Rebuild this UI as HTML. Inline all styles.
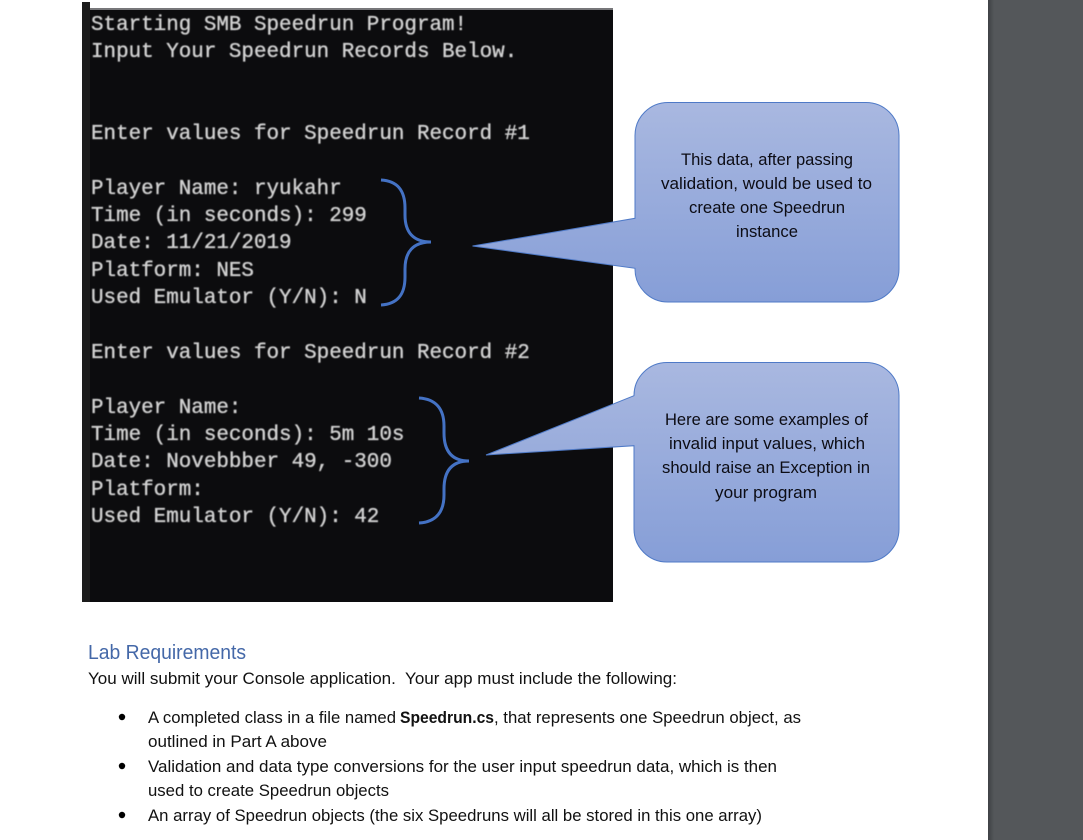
<!DOCTYPE html>
<html lang="en">
<head>
<meta charset="utf-8">
<title>Speedrun Lab</title>
<style>
html,body{margin:0;padding:0;width:1083px;height:840px;overflow:hidden;background:#fff}
svg{display:block}
.t{font-family:"Liberation Mono",monospace;font-size:20.9px;fill:#d2d2d2;stroke:#d2d2d2;stroke-width:.35px}
.s{font-family:"Liberation Sans",sans-serif;font-size:16.5px;fill:#111}
.c{font-family:"Liberation Sans",sans-serif;font-size:16.5px;fill:#0c0c14}
</style>
</head>
<body>
<svg width="1083" height="840" viewBox="0 0 1083 840" xmlns="http://www.w3.org/2000/svg">
<defs>
<linearGradient id="g" x1="0" y1="0" x2="0" y2="1">
<stop offset="0" stop-color="#a9b8e0"/>
<stop offset="1" stop-color="#869ed7"/>
</linearGradient>
<linearGradient id="sh" x1="0" y1="0" x2="1" y2="0">
<stop offset="0" stop-color="#3e4144"/>
<stop offset="1" stop-color="#54575a"/>
</linearGradient>
<filter id="b" x="-2%" y="-2%" width="104%" height="104%"><feGaussianBlur stdDeviation="0.5"/></filter>
</defs>

<rect width="1083" height="840" fill="#fff"/>

<!-- right panel -->
<rect x="988" y="0" width="95" height="840" fill="#54575a"/>
<rect x="988" y="0" width="6" height="840" fill="url(#sh)"/>

<!-- terminal -->
<rect x="82" y="2" width="8" height="7" fill="#1c1c1c"/>
<rect x="82" y="9" width="531" height="593" fill="#0c0c0e"/>
<rect x="82" y="9" width="8" height="593" fill="#1c1c1c"/>
<rect x="90" y="8" width="523" height="2" fill="#77777a"/>

<g filter="url(#b)">
<text class="t" x="91" y="30">Starting SMB Speedrun Program!</text>
<text class="t" x="91" y="57">Input Your Speedrun Records Below.</text>
<text class="t" x="91" y="139">Enter values for Speedrun Record #1</text>
<text class="t" x="91" y="194">Player Name: ryukahr</text>
<text class="t" x="91" y="221">Time (in seconds): 299</text>
<text class="t" x="91" y="248">Date: 11/21/2019</text>
<text class="t" x="91" y="276">Platform: NES</text>
<text class="t" x="91" y="303">Used Emulator (Y/N): N</text>
<text class="t" x="91" y="358">Enter values for Speedrun Record #2</text>
<text class="t" x="91" y="413">Player Name:</text>
<text class="t" x="91" y="440">Time (in seconds): 5m 10s</text>
<text class="t" x="91" y="467">Date: Novebbber 49, -300</text>
<text class="t" x="91" y="495">Platform:</text>
<text class="t" x="91" y="522">Used Emulator (Y/N): 42</text>
</g>

<!-- braces -->
<path d="M381 180 C398 181 405 191 405 208 L405 215 C405 232 413 242 431 242 C413 242 405 252 405 269 L405 277 C405 294 398 304 381 305" fill="none" stroke="#4472c4" stroke-width="3"/>
<path d="M419 398 C436 399 444 409 444 426 L444 433 C444 450 451 461 469 461 C451 461 444 472 444 489 L444 495 C444 512 436 522 419 523" fill="none" stroke="#4472c4" stroke-width="3"/>

<!-- callout 1 -->
<path d="M668 102.5 H866 A33 33 0 0 1 899 135.500 V269 A33 33 0 0 1 866 302 H668 A33 33 0 0 1 635 269 V268.300 L472.500 246 L635 218.300 V135.500 A33 33 0 0 1 668 102.500 Z" fill="url(#g)" stroke="#4f7ac7" stroke-width="1"/>
<text class="c" x="681" y="165" textLength="172" lengthAdjust="spacingAndGlyphs">This data, after passing</text>
<text class="c" x="661" y="189" textLength="211" lengthAdjust="spacingAndGlyphs">validation, would be used to</text>
<text class="c" x="689" y="213" textLength="156" lengthAdjust="spacingAndGlyphs">create one Speedrun</text>
<text class="c" x="736" y="237" textLength="62" lengthAdjust="spacingAndGlyphs">instance</text>

<!-- callout 2 -->
<path d="M667 362.500 H866 A33 33 0 0 1 899 395.500 V529 A33 33 0 0 1 866 562 H667 A33 33 0 0 1 634 529 V445.700 L486 455 L634 395.700 A33 33 0 0 1 667 362.500 Z" fill="url(#g)" stroke="#4f7ac7" stroke-width="1"/>
<text class="c" x="665" y="425" textLength="203" lengthAdjust="spacingAndGlyphs">Here are some examples of</text>
<text class="c" x="669" y="449" textLength="196" lengthAdjust="spacingAndGlyphs">invalid input values, which</text>
<text class="c" x="662" y="473" textLength="208" lengthAdjust="spacingAndGlyphs">should raise an Exception in</text>
<text class="c" x="715" y="498" textLength="102" lengthAdjust="spacingAndGlyphs">your program</text>

<!-- requirements -->
<text x="88" y="659" font-family="'Liberation Sans',sans-serif" font-size="20.500" fill="#4468a8" textLength="158" lengthAdjust="spacingAndGlyphs">Lab Requirements</text>
<text class="s" x="88" y="684" textLength="589" lengthAdjust="spacingAndGlyphs">You will submit your Console application.&#160; Your app must include the following:</text>

<circle cx="122" cy="717" r="3.200" fill="#000"/>
<circle cx="122" cy="766" r="3.200" fill="#000"/>
<circle cx="122" cy="815" r="3.200" fill="#000"/>

<text class="s" x="148" y="723" textLength="248" lengthAdjust="spacingAndGlyphs">A completed class in a file named</text>
<text class="s" x="400" y="723" textLength="94" lengthAdjust="spacingAndGlyphs" font-weight="bold">Speedrun.cs</text>
<text class="s" x="494" y="723" textLength="307" lengthAdjust="spacingAndGlyphs">, that represents one Speedrun object, as</text>
<text class="s" x="148" y="747" textLength="179" lengthAdjust="spacingAndGlyphs">outlined in Part A above</text>
<text class="s" x="148" y="772" textLength="629" lengthAdjust="spacingAndGlyphs">Validation and data type conversions for the user input speedrun data, which is then</text>
<text class="s" x="148" y="796" textLength="241" lengthAdjust="spacingAndGlyphs">used to create Speedrun objects</text>
<text class="s" x="148" y="821" textLength="614" lengthAdjust="spacingAndGlyphs">An array of Speedrun objects (the six Speedruns will all be stored in this one array)</text>
</svg>
</body>
</html>
